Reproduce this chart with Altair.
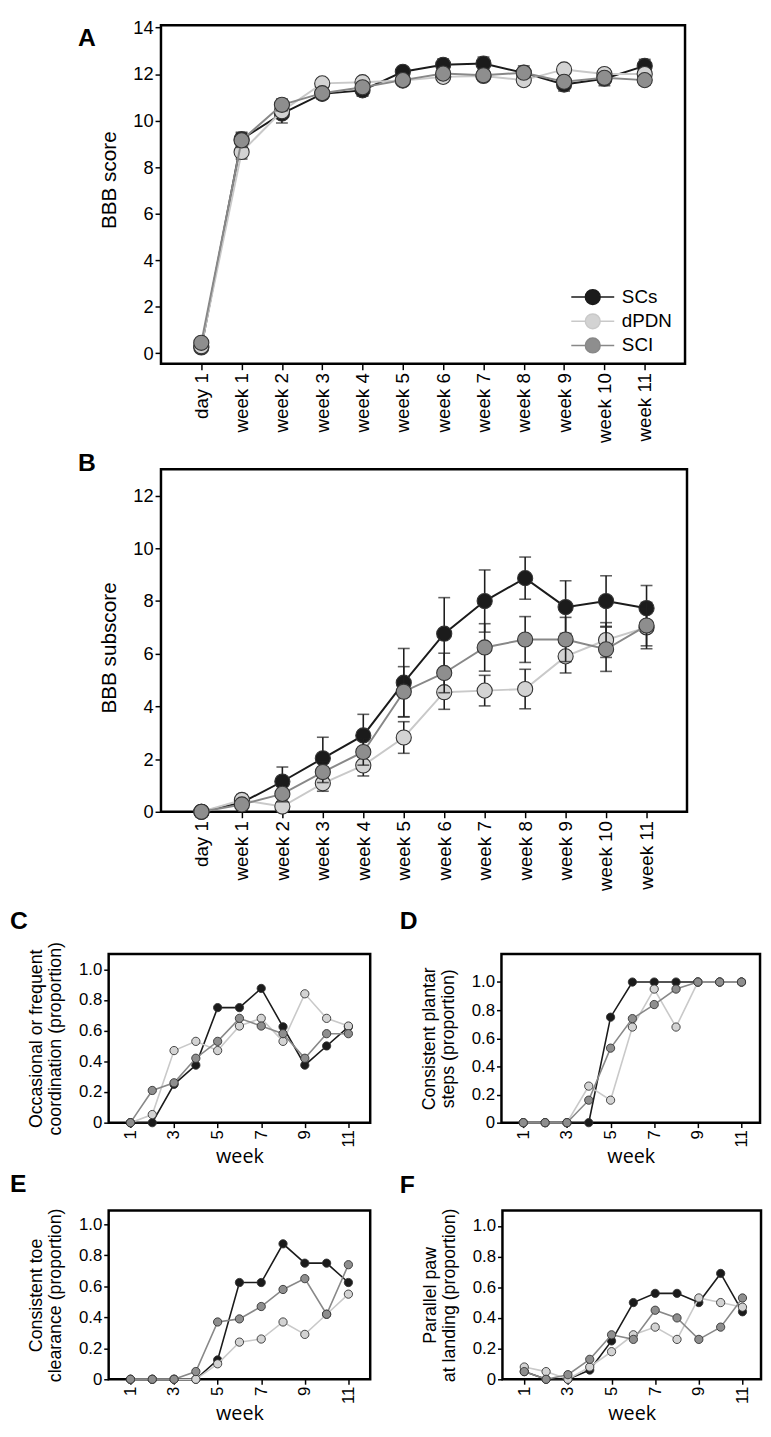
import altair as alt
import pandas as pd

FONT = "Liberation Sans"
groups = ["SCs", "dPDN", "SCI"]
fill_colors = ["#1b1b1b", "#d3d3d3", "#8e8e8e"]
line_colors = ["#1b1b1b", "#c9c9c9", "#888888"]
point_stroke = "#333333"

stage_labels = ["day 1", "week 1", "week 2", "week 3", "week 4", "week 5",
                "week 6", "week 7", "week 8", "week 9", "week 10", "week 11"]
stage_index = list(range(len(stage_labels)))
weeks = [1, 2, 3, 4, 5, 6, 7, 8, 9, 10, 11]
week_ticks = [1, 3, 5, 7, 9, 11]

# ---- Panel A: BBB score (mean, sem) ----
a_scs = [0.25, 9.2, 10.3, 11.15, 11.3, 12.1, 12.4, 12.45, 12.05, 11.55, 11.8, 12.35]
a_scs_err = [0.15, 0.3, 0.4, 0.2, 0.25, 0.15, 0.25, 0.28, 0.3, 0.28, 0.3, 0.28]
a_dpdn = [0.3, 8.65, 10.4, 11.6, 11.65, 11.72, 11.88, 11.92, 11.74, 12.2, 12.0, 12.0]
a_dpdn_err = [0.1, 0.3, 0.25, 0.15, 0.15, 0.15, 0.15, 0.15, 0.2, 0.15, 0.2, 0.15]
a_sci = [0.45, 9.15, 10.68, 11.18, 11.43, 11.74, 12.02, 11.95, 12.06, 11.67, 11.84, 11.74]
a_sci_err = [0.1, 0.3, 0.25, 0.15, 0.2, 0.2, 0.2, 0.2, 0.2, 0.2, 0.2, 0.2]

# ---- Panel B: BBB subscore (mean, sem) ----
b_scs = [0, 0.35, 1.15, 2.03, 2.9, 4.9, 6.76, 8.0, 8.87, 7.77, 8.0, 7.73]
b_scs_err = [0, 0.3, 0.55, 0.8, 0.8, 1.3, 1.37, 1.18, 0.8, 1.0, 0.96, 0.86]
b_dpdn = [0, 0.45, 0.2, 1.08, 1.76, 2.82, 4.54, 4.6, 4.66, 5.9, 6.52, 7.0]
b_dpdn_err = [0, 0.2, 0.15, 0.3, 0.4, 0.6, 0.65, 0.58, 0.75, 0.63, 0.66, 0.7]
b_sci = [0, 0.28, 0.68, 1.51, 2.27, 4.56, 5.27, 6.24, 6.54, 6.54, 6.17, 7.07]
b_sci_err = [0, 0.15, 0.3, 0.4, 0.5, 0.95, 0.75, 0.9, 0.87, 0.84, 0.84, 0.88]

# ---- Panels C-F: proportions by week ----
c_scs = [0, 0, 0.25, 0.375, 0.75, 0.75, 0.875, 0.625, 0.375, 0.5, 0.625]
c_dpdn = [0, 0.053, 0.47, 0.53, 0.47, 0.63, 0.68, 0.53, 0.84, 0.68, 0.63]
c_sci = [0, 0.21, 0.26, 0.42, 0.53, 0.68, 0.63, 0.58, 0.42, 0.58, 0.58]

d_scs = [0, 0, 0, 0, 0.75, 1, 1, 1, 1, 1, 1]
d_dpdn = [0, 0, 0, 0.26, 0.16, 0.68, 0.95, 0.68, 1, 1, 1]
d_sci = [0, 0, 0, 0.16, 0.53, 0.74, 0.84, 0.95, 1, 1, 1]

e_scs = [0, 0, 0, 0, 0.125, 0.625, 0.625, 0.875, 0.75, 0.75, 0.625]
e_dpdn = [0, 0, 0, 0, 0.1, 0.24, 0.26, 0.37, 0.29, 0.42, 0.55]
e_sci = [0, 0, 0, 0.05, 0.37, 0.39, 0.47, 0.58, 0.65, 0.42, 0.74]

f_scs = [0.05, 0, 0, 0.06, 0.25, 0.5, 0.56, 0.56, 0.5, 0.69, 0.44]
f_dpdn = [0.08, 0.05, 0, 0.08, 0.18, 0.29, 0.34, 0.26, 0.53, 0.5, 0.47]
f_sci = [0.05, 0, 0.03, 0.13, 0.29, 0.26, 0.45, 0.4, 0.26, 0.34, 0.53]

prop_ticks = [0, 0.2, 0.4, 0.6, 0.8, 1.0]

stage_expr = "[" + ",".join("'%s'" % s for s in stage_labels) + "][datum.value]"
prop_expr = "datum.value == 0 ? '0' : format(datum.value, '.1f')"

fill_scale = alt.Scale(domain=groups, range=fill_colors)
stroke_scale = alt.Scale(domain=groups, range=line_colors)

LEGEND_SYMBOL = "M-2.9,0L-1,0M1,0L2.9,0M-1,0A1,1,0,1,1,1,0A1,1,0,1,1,-1,0Z"


def bbb_frame(means, errs):
    rows = []
    for g, m, e in zip(groups, means, errs):
        for i, (mv, ev) in enumerate(zip(m, e)):
            rows.append({"idx": stage_index[i], "group": g, "mean": mv,
                         "lo": mv - ev, "hi": mv + ev})
    return pd.DataFrame(rows)


def prop_frame(series):
    rows = []
    for g, vals in zip(groups, series):
        for w, v in zip(weeks, vals):
            rows.append({"week": w, "group": g, "val": v})
    return pd.DataFrame(rows)


def letter_layer(letter, lx, ly):
    return alt.Chart(pd.DataFrame({"t": [letter]})).mark_text(
        align="left", baseline="middle", font=FONT, fontSize=25,
        fontWeight="bold", color="black"
    ).encode(x=alt.value(lx), y=alt.value(ly), text="t:N")


def spacer(letter, lx, ly, title, tx, ty, w):
    t = alt.Chart(pd.DataFrame({"t": [title]})).mark_text(
        align="center", baseline="middle", angle=270, font=FONT, fontSize=21,
        color="black"
    ).encode(x=alt.value(tx), y=alt.value(ty), text="t:N")
    return alt.layer(letter_layer(letter, lx, ly), t).properties(
        width=w, height=1, view=alt.ViewBackground(stroke="transparent"))


def bbb_panel(df, ydom, yvals, w, h, legend):
    x = alt.X("idx:Q", scale=alt.Scale(domain=[-1, 12], nice=False, zero=False),
              axis=alt.Axis(values=stage_index, labelExpr=stage_expr, labelAngle=-90,
                            title=None, tickSize=6, labelPadding=3, labelFontSize=19))
    y_axis = alt.Axis(values=yvals, title=None, tickSize=6, labelPadding=2,
                      labelFontSize=18.5)
    yscale = alt.Scale(domain=ydom, nice=False, zero=False)
    layers = []
    for g in groups:
        base = alt.Chart(df[df["group"] == g])
        err = base.mark_errorbar(ticks=True, size=12, thickness=1.6, color="#1e1e1e").encode(
            x=x, y=alt.Y("lo:Q", scale=yscale, axis=y_axis), y2="hi:Q")
        line = base.mark_line(strokeWidth=2).encode(
            x=x, y=alt.Y("mean:Q", scale=yscale, axis=y_axis),
            stroke=alt.Stroke("group:N", scale=stroke_scale, legend=legend))
        pts = base.mark_circle(size=235, opacity=1, stroke=point_stroke, strokeWidth=1.1).encode(
            x=x, y=alt.Y("mean:Q", scale=yscale, axis=y_axis),
            fill=alt.Fill("group:N", scale=fill_scale, legend=legend))
        layers += [err, line, pts]
    return alt.layer(*layers).properties(width=w, height=h)


def small_panel(series, ydom, xdom, w, h, title_lines, letter, lx, ly):
    df = prop_frame(series)
    x = alt.X("week:Q", scale=alt.Scale(domain=xdom, nice=False, zero=False),
              axis=alt.Axis(values=week_ticks, labelAngle=-90, title="week",
                            titleFont="Open Sans", titleFontSize=20,
                            titleFontWeight="normal", titlePadding=0,
                            tickSize=5, labelPadding=2, labelFontSize=17))
    y = alt.Y("val:Q", scale=alt.Scale(domain=ydom, nice=False, zero=False),
              axis=alt.Axis(values=prop_ticks, labelExpr=prop_expr, title=title_lines,
                            titleFontSize=18, titleFontWeight="normal", titlePadding=14,
                            titleLineHeight=19, tickSize=5, labelPadding=2,
                            labelFontSize=17))
    layers = []
    for g in groups:
        base = alt.Chart(df[df["group"] == g])
        line = base.mark_line(strokeWidth=1.6).encode(
            x=x, y=y, stroke=alt.Stroke("group:N", scale=stroke_scale, legend=None))
        pts = base.mark_circle(size=70, opacity=1, stroke=point_stroke, strokeWidth=0.9).encode(
            x=x, y=y, fill=alt.Fill("group:N", scale=fill_scale, legend=None))
        layers += [line, pts]
    layers.append(letter_layer(letter, lx, ly))
    return alt.layer(*layers).properties(width=w, height=h)


legend_a = alt.Legend(orient="none", legendX=428, legendY=266, title=None,
                      symbolType=LEGEND_SYMBOL, symbolSize=225, symbolStrokeWidth=1.5,
                      symbolOpacity=1, labelFontSize=19, labelFont=FONT,
                      labelColor="black", rowPadding=3.5, labelOffset=20, padding=0)

chart_a = bbb_panel(bbb_frame([a_scs, a_dpdn, a_sci], [a_scs_err, a_dpdn_err, a_sci_err]),
                    [-0.45, 14.1], [0, 2, 4, 6, 8, 10, 12, 14], 531, 343, legend_a)
chart_b = bbb_panel(bbb_frame([b_scs, b_dpdn, b_sci], [b_scs_err, b_dpdn_err, b_sci_err]),
                    [0, 13], [0, 2, 4, 6, 8, 10, 12], 533, 347, None)

sp_a = spacer("A", -31, 13.5, "BBB score", 1, 157, 21)
sp_b = spacer("B", -31, -6.5, "BBB subscore", 1, 181, 21)

chart_c = small_panel([c_scs, c_dpdn, c_sci], [0, 1.1], [0, 12], 265, 171,
                      ["Occasional or frequent", "coordination (proportion)"], "C", -100, -33)
chart_d = small_panel([d_scs, d_dpdn, d_sci], [0, 1.2], [0, 11.85], 262, 171,
                      ["Consistent plantar", "steps (proportion)"], "D", -103, -33)
chart_e = small_panel([e_scs, e_dpdn, e_sci], [0, 1.09], [0, 12], 265, 171,
                      ["Consistent toe", "clearance (proportion)"], "E", -100, -27)
chart_f = small_panel([f_scs, f_dpdn, f_sci], [0, 1.1], [0, 11.85], 262, 171,
                      ["Parallel paw", "at landing (proportion)"], "F", -104, -26)

indep = dict(fill="independent", stroke="independent")
row_a = alt.hconcat(sp_a, chart_a, spacing=0).resolve_scale(**indep)
row_b = alt.hconcat(sp_b, chart_b, spacing=0).resolve_scale(**indep)
row_cd = alt.hconcat(chart_c, chart_d, spacing=26).resolve_scale(**indep)
row_ef = alt.hconcat(chart_e, chart_f, spacing=26).resolve_scale(**indep)

top_block = alt.vconcat(row_a, row_b, spacing=5).resolve_scale(**indep)
bottom_block = alt.vconcat(row_cd, row_ef, spacing=2).resolve_scale(**indep)

chart = alt.vconcat(top_block, bottom_block, spacing=15).resolve_scale(**indep).properties(
    padding=0
).configure_view(
    stroke="black", strokeWidth=2.5
).configure_axis(
    labelFont=FONT, titleFont=FONT, labelColor="black", titleColor="black",
    tickColor="black", tickWidth=1.5, domain=False, grid=False
)

chart.save("out.html", embed_options={"renderer": "svg", "actions": False})
